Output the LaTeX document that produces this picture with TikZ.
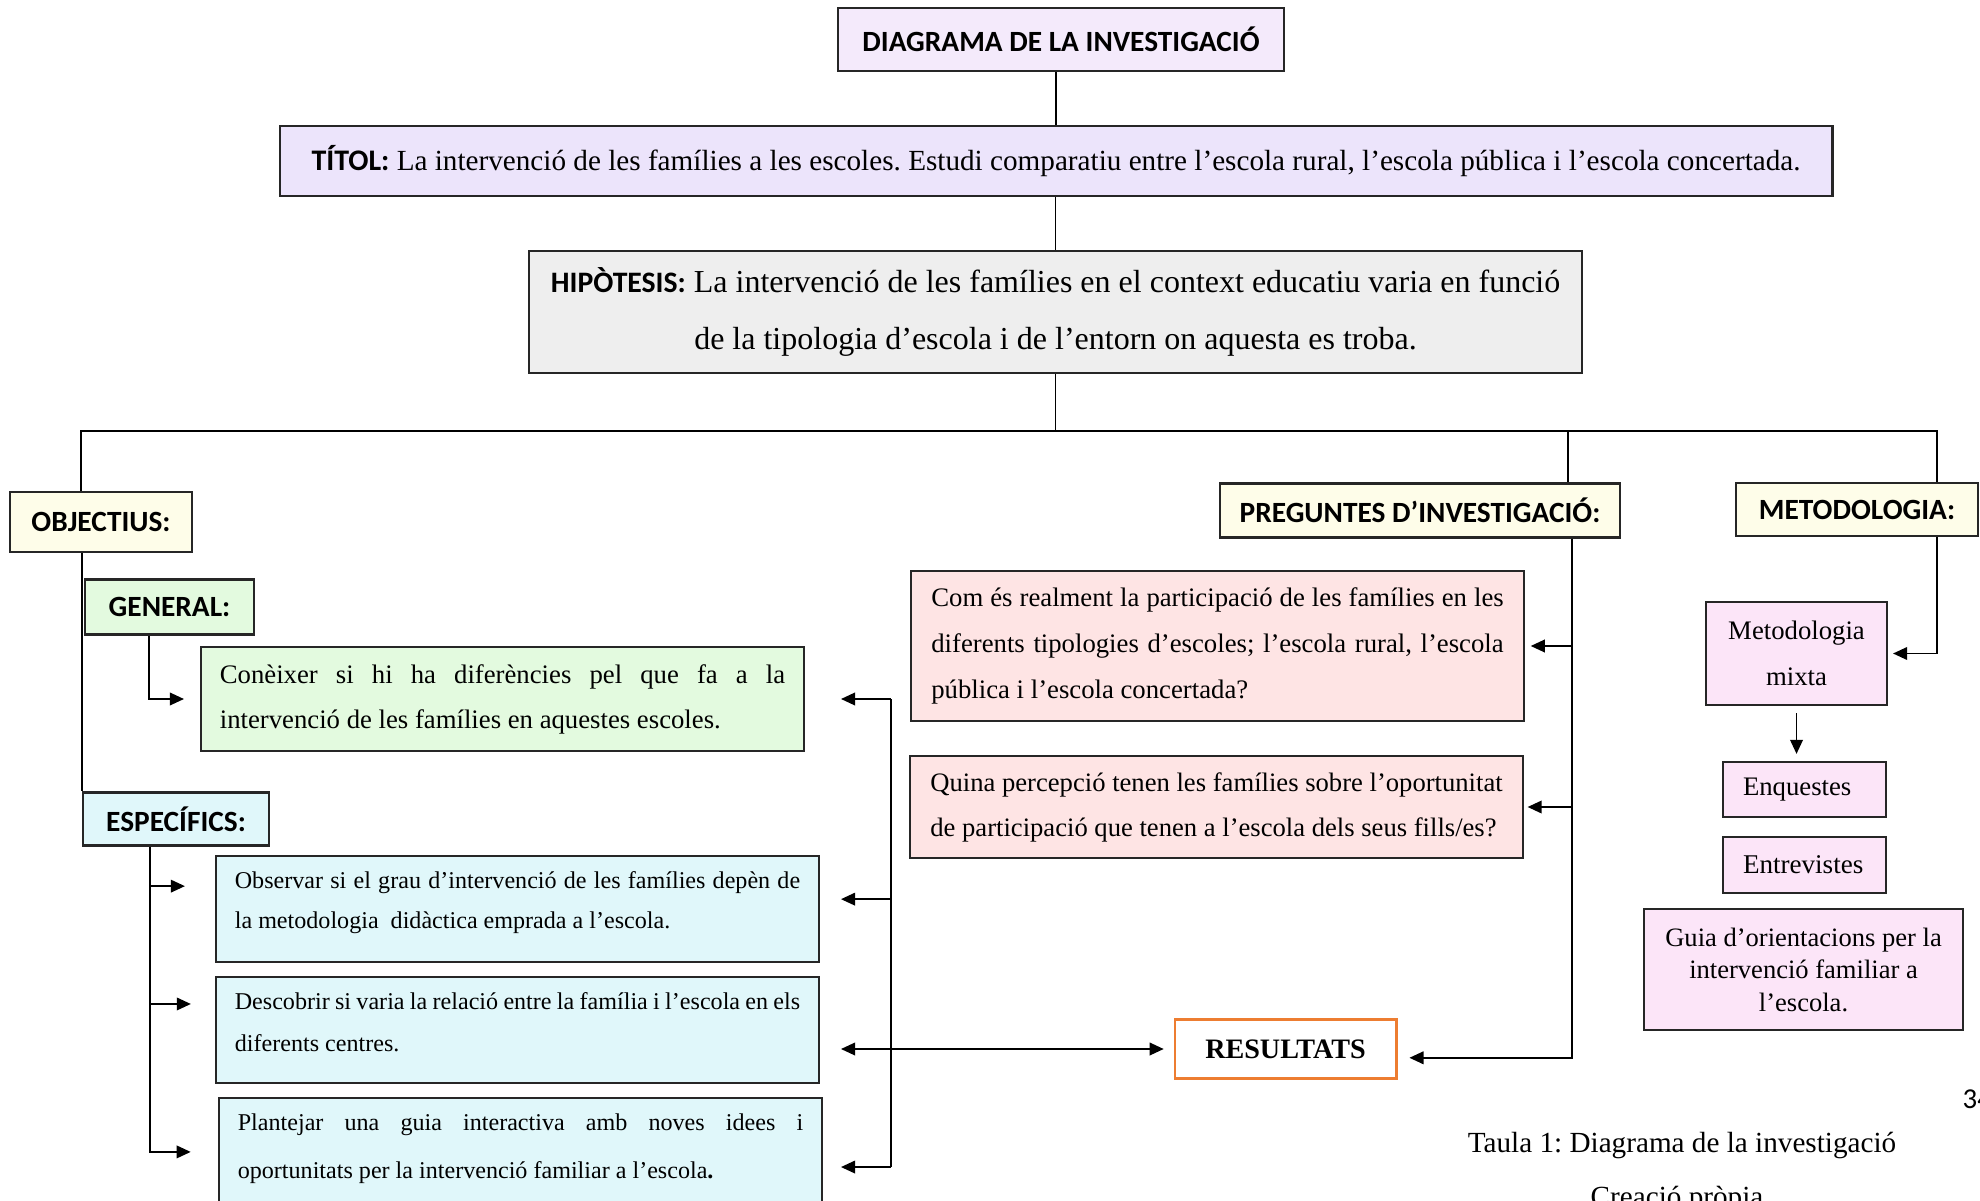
\documentclass[tikz,border=0pt]{standalone}
\usepackage{fontspec}
\setmainfont{Liberation Serif}
\newfontfamily\lblfont{Carlito}
\usetikzlibrary{arrows.meta,positioning}
\definecolor{lilaA}{HTML}{F4EAFB}
\definecolor{lilaB}{HTML}{ECE4FB}
\definecolor{grisos}{HTML}{EEEEEE}
\definecolor{crema}{HTML}{FEFDE9}
\definecolor{verdet}{HTML}{E3FADF}
\definecolor{cian}{HTML}{E0F7FA}
\definecolor{rosa}{HTML}{FEE4E4}
\definecolor{malva}{HTML}{FCE5F8}
\definecolor{taronja}{HTML}{ED7D31}
\newcommand{\boxw}{0.6pt}
\newcommand{\linw}{0.45pt}
\newcommand{\peu}[1]{\par\nointerlineskip\vbox to #1{\vfil}}
\hyphenpenalty=10000
\frenchspacing

\begin{document}
\begin{tikzpicture}[x=0.01cm,y=-0.01cm,
    box/.style={draw=black!85,line width=\boxw,inner sep=0pt,align=center},
    lbl/.style={box,fill=crema,font=\lblfont\bfseries\fontsize{8.35}{10}\selectfont},
    txt/.style={box,align=justify,inner xsep=0.19cm,font=\fontsize{7.6}{12.8}\selectfont},
    ln/.style={line width=\linw},
    arr/.style={line width=\linw,-{Triangle[length=4pt,width=3.6pt]}},
    arrb/.style={line width=\linw,{Triangle[length=4pt,width=3.6pt]}-{Triangle[length=4pt,width=3.6pt]}}]
    \useasboundingbox (0,0) rectangle (1980,1201);
    % capcalera
    \node[lbl,fill=lilaA,minimum width=4.46cm,minimum height=0.63cm] (diag) at (1061,39.5) {DIAGRAMA DE LA INVESTIGACIÓ};
    \node[box,fill=lilaB,minimum width=15.52cm,minimum height=0.70cm,font=\fontsize{8.3}{10}\selectfont] (titol) at (1056,161)
        {{\lblfont\bfseries\fontsize{8.5}{10}\selectfont TÍTOL:} La intervenció de les famílies a les escoles. Estudi comparatiu entre l’escola rural, l’escola pública i l’escola concertada.};
    \node[box,fill=grisos,minimum width=10.53cm,minimum height=1.22cm,font=\fontsize{9.1}{16.2}\selectfont] (hipo) at (1055.5,312)
        {{\lblfont\bfseries\fontsize{8.45}{16.2}\selectfont HIPÒTESIS:} La intervenció de les famílies en el context educatiu varia en funció\\de la tipologia d’escola i de l’entorn on aquesta es troba.};
    % branques
    \node[lbl,minimum width=1.82cm,minimum height=0.60cm] (obj) at (101,522) {OBJECTIUS:};
    \node[lbl,minimum width=4.00cm,minimum height=0.54cm] (preg) at (1420,510.5) {PREGUNTES D’INVESTIGACIÓ:};
    \node[lbl,minimum width=2.42cm,minimum height=0.53cm] (metod) at (1857,509.5) {METODOLOGIA:};
    % objectius
    \node[lbl,fill=verdet,minimum width=1.69cm,minimum height=0.55cm] (general) at (169.5,607) {GENERAL:};
    \node[txt,fill=verdet,text width=5.65cm,minimum height=1.04cm] (coneixer) at (502.5,699)
        {Conèixer si hi ha diferències pel que fa a la\linebreak intervenció de les famílies en aquestes escoles.};
    \node[lbl,fill=cian,minimum width=1.86cm,minimum height=0.53cm] (especif) at (176,819) {ESPECÍFICS:};
    \node[txt,fill=cian,text width=5.65cm,minimum height=1.06cm,font=\fontsize{6.85}{11.4}\selectfont] (observar) at (517.5,909)
        {Observar si el grau d’intervenció de les famílies depèn de\linebreak la metodologia\ \ didàctica emprada a l’escola.\peu{3.6pt}};
    \node[txt,fill=cian,text width=5.65cm,minimum height=1.06cm,font=\fontsize{6.85}{12}\selectfont] (descobrir) at (517.5,1030)
        {Descobrir si varia la relació entre la família i l’escola en els\linebreak diferents centres.\peu{4.3pt}};
    \node[txt,fill=cian,text width=5.65cm,minimum height=1.24cm,font=\fontsize{6.85}{13.7}\selectfont] (plantejar) at (520.5,1160)
        {Plantejar una guia interactiva amb noves idees i\linebreak oportunitats per la intervenció familiar a l’escola\textbf{.}\peu{6.5pt}};
    % preguntes
    \node[txt,fill=rosa,text width=5.72cm,inner xsep=0.2cm,minimum height=1.50cm,font=\fontsize{7.6}{13.2}\selectfont] (com) at (1217.5,646)
        {Com és realment la participació de les famílies en les\linebreak diferents tipologies d’escoles; l’escola rural, l’escola\linebreak pública i l’escola concertada?};
    \node[txt,fill=rosa,text width=5.72cm,inner xsep=0.2cm,minimum height=1.02cm,font=\fontsize{7.57}{12.8}\selectfont] (quina) at (1216.5,807)
        {Quina percepció tenen les famílies sobre l’oportunitat\linebreak de participació que tenen a l’escola dels seus fills/es?};
    \node[box,draw=taronja,line width=0.8pt,minimum width=2.21cm,minimum height=0.59cm,font=\bfseries\fontsize{8}{9}\selectfont] (resultats) at (1285.5,1049) {RESULTATS};
    % metodologia
    \node[box,fill=malva,minimum width=1.81cm,minimum height=1.03cm,font=\fontsize{7.6}{13.1}\selectfont] (mixta) at (1796.5,653.5) {Metodologia\\mixta};
    \node[box,fill=malva,align=left,text width=1.23cm,inner xsep=0.2cm,minimum height=0.55cm,font=\fontsize{7.6}{9}\selectfont] (enquestes) at (1804.5,789.5) {Enquestes};
    \node[box,fill=malva,align=left,text width=1.23cm,inner xsep=0.2cm,minimum height=0.56cm,font=\fontsize{7.7}{9}\selectfont] (entrevistes) at (1804.5,865) {Entrevistes};
    \node[box,fill=malva,minimum width=3.19cm,minimum height=1.21cm,font=\fontsize{7.55}{9.25}\selectfont] (guia) at (1803.5,969.5)
        {Guia d’orientacions per la\\intervenció familiar a\\l’escola.};
    % peu
    \node[anchor=base,font=\fontsize{8.3}{10}\selectfont] (taula) at (1682,1152) {Taula 1: Diagrama de la investigació};
    \node[anchor=base,font=\fontsize{8.3}{10}\selectfont] (creacio) at (1677,1206) {Creació pròpia};
    \node[anchor=base west,inner sep=0pt,font=\lblfont\fontsize{8.2}{10}\selectfont] (pag) at (1962,1108) {34};

    % connexions
    \coordinate (busL) at (81,431);
    \coordinate (busR) at (1937,431);
    \coordinate (busP) at (1568,431);
    \draw[ln] (titol.north) -- (titol.north |- diag.south);
    \draw[ln] (hipo.north) -- (hipo.north |- titol.south);
    \draw[ln] (hipo.south) -- (hipo.south |- busL);
    \draw[ln] (obj.north -| busL) -- (busL) -- (busR) -- (busR |- metod.north);
    \draw[ln] (busP) -- (busP |- preg.north);
    \draw[ln] (especif.north west |- obj.south) -- (especif.north west);
    \coordinate (genX) at (149,0);
    \coordinate (espX) at (150,0);
    \draw[arr,shorten >=4.5pt] (genX |- general.south) |- (coneixer.west);
    \draw[arr,shorten >=7.7pt] (espX |- especif.south) |- ([yshift=2.3pt]plantejar.west);
    \draw[arr,shorten >=8.5pt] ([yshift=6.5pt]espX |- observar.west) -- ([yshift=6.5pt]observar.west);
    \draw[arr,shorten >=6.8pt] ([yshift=7.4pt]espX |- descobrir.west) -- ([yshift=7.4pt]descobrir.west);
    % cap als resultats
    \coordinate (spR) at (891,0);
    \coordinate (tipL) at (841,0);
    \draw[ln] (spR |- coneixer.east) -- ([yshift=-2pt]spR |- plantejar.east);
    \draw[arr] (spR |- coneixer.east) -- (tipL |- coneixer.east);
    \draw[arr] ([yshift=2.8pt]spR |- observar.east) -- ([yshift=2.8pt]tipL |- observar.east);
    \draw[arr] ([yshift=-2pt]spR |- plantejar.east) -- ([yshift=-2pt]tipL |- plantejar.east);
    \draw[arrb,shorten >=2.8pt] (tipL |- resultats.west) -- (resultats.west);
    \coordinate (spP) at (1572,0);
    \draw[arr,shorten >=3.4pt] (spP |- preg.south) |- ([yshift=-2.5pt]resultats.east);
    \draw[arr,shorten >=1.7pt] (spP |- com.east) -- (com.east);
    \draw[arr,shorten >=1.1pt] (spP |- quina.east) -- (quina.east);
    \coordinate (spM) at (1937,0);
    \draw[arr,shorten >=1.4pt] (spM |- metod.south) |- (mixta.east);
    \draw[arr,shorten <=2pt,shorten >=2pt] (mixta.south) -- (mixta.south |- enquestes.north);
\end{tikzpicture}
\end{document}
